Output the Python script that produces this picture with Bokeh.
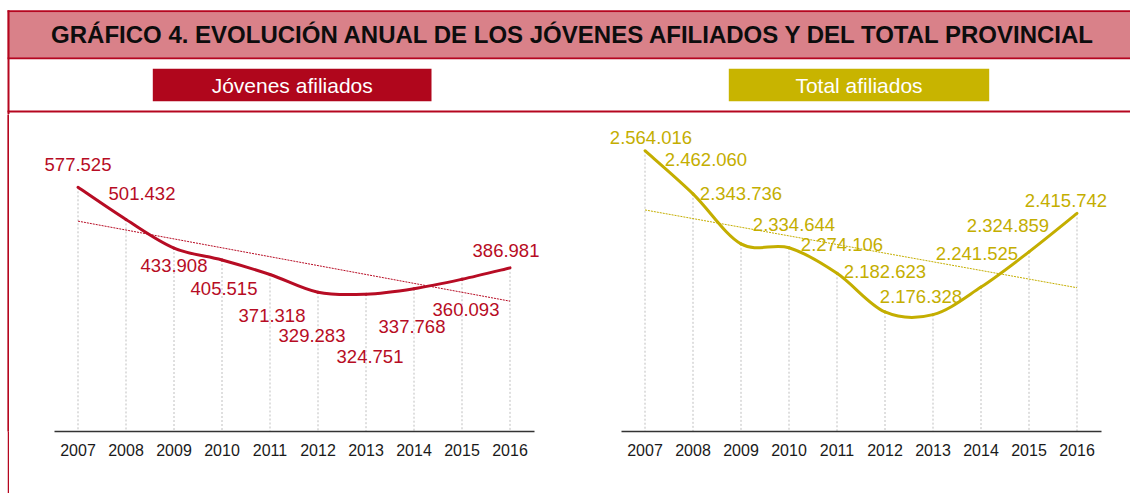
import numpy as np
from bokeh.plotting import figure
from bokeh.layouts import column, row, Spacer
from bokeh.models import Range1d, FixedTicker
from bokeh.core.properties import value
from bokeh.embed import file_html
from bokeh.resources import INLINE

# ---------------- data ----------------
title = "GRÁFICO 4. EVOLUCIÓN ANUAL DE LOS JÓVENES AFILIADOS Y DEL TOTAL PROVINCIAL"
series_names = ["Jóvenes afiliados", "Total afiliados"]
years = [2007, 2008, 2009, 2010, 2011, 2012, 2013, 2014, 2015, 2016]
jovenes = [577525, 501432, 433908, 405515, 371318, 329283, 324751, 337768, 360093, 386981]
total = [2564016, 2462060, 2343736, 2334644, 2274106, 2182623, 2176328, 2241525, 2324859, 2415742]
axis_min = [0, 1900000]
axis_span = 700000

# ---------------- style / layout ----------------
FONT = "Liberation Sans"
RED = "#B5061F"
PINK = "#D98189"
BOX_RED = "#B0061C"
OLIVE = "#C8B400"
C_JOV = "#B70C24"
C_TOT = "#C4AE00"
GRAY = "#BFBFBF"

W, H = 1130, 493
HEADER_H = 114
CHART_H = H - HEADER_H
BORDER_X = 7           # left red border position
BORDER_W = 2
LEFT_W = 564
RIGHT_W = W - BORDER_X - BORDER_W - LEFT_W
PX_PER_YEAR = 48
FRAME_H = 317          # frame bottom (axis line) inside chart figure
PLOT_H = 296           # pixels used by axis_span

# label offsets in screen pixels (dx, dy: positive = down)
off_jov = [(0, -23), (16, -26), (0, 17), (2, 28), (2, 41), (-6, 43), (4, 62), (-2, 38), (4, 30), (-4, -17)]
off_tot = [(6, -13), (13, -34), (0, -50), (5, -23), (5, -29), (0, -40), (-12, -18), (-4, -34), (-21, -26), (-11, -13)]


def fmt(v):
    return f"{v:,}".replace(",", ".")


def bezier_parts(xs, ys):
    xs = np.asarray(xs, float)
    ys = np.asarray(ys, float)
    n = len(xs)
    px = np.concatenate([[xs[0]], xs, [xs[-1]]])
    py = np.concatenate([[ys[0]], ys, [ys[-1]]])
    cx0 = px[1:n] + (px[2:n + 1] - px[0:n - 1]) / 6
    cy0 = py[1:n] + (py[2:n + 1] - py[0:n - 1]) / 6
    cx1 = px[2:n + 1] - (px[3:n + 2] - px[1:n]) / 6
    cy1 = py[2:n + 1] - (py[3:n + 2] - py[1:n]) / 6
    return dict(x0=xs[:-1], y0=ys[:-1], x1=xs[1:], y1=ys[1:],
                cx0=cx0, cy0=cy0, cx1=cx1, cy1=cy1)


def chart(width, vals, ymin, color, offsets, first_px):
    x_start = years[0] - first_px / PX_PER_YEAR
    p = figure(width=width, height=CHART_H,
               x_range=Range1d(x_start, x_start + width / PX_PER_YEAR),
               y_range=Range1d(ymin, ymin + axis_span * FRAME_H / PLOT_H),
               output_backend="svg", toolbar_location=None,
               y_axis_location=None, min_border_left=0, min_border_right=0,
               min_border_top=0, min_border_bottom=CHART_H - FRAME_H,
               outline_line_color=None)
    p.grid.visible = False
    ax = p.xaxis[0]
    ax.ticker = FixedTicker(ticks=years)
    ax.bounds = (years[0] - 0.5, years[-1] + 0.5)
    ax.axis_line_color = "#333333"
    ax.axis_line_width = 1.5
    ax.major_tick_line_color = None
    ax.minor_tick_line_color = None
    ax.major_tick_out = 0
    ax.major_tick_in = 0
    ax.major_label_standoff = 12
    ax.major_label_text_font = FONT
    ax.major_label_text_font_size = "16px"
    ax.major_label_text_color = "#1a1a1a"

    # drop lines
    p.segment(x0=years, y0=vals, x1=years, y1=[ymin] * len(years),
              line_color=GRAY, line_width=1, line_dash="2 2")
    # linear trend
    coef = np.polyfit(years, vals, 1)
    tx = [years[0], years[-1]]
    p.line(x=tx, y=np.polyval(coef, tx), line_color=color, line_width=1,
           line_dash="2 1")
    # smoothed series
    p.bezier(line_color=color, line_width=3, line_cap="round",
             **bezier_parts(years, vals))
    # data labels
    p.text(x=years, y=vals, text=[fmt(v) for v in vals],
           x_offset=[o[0] for o in offsets], y_offset=[o[1] for o in offsets],
           text_align="center", text_baseline="middle",
           text_font=value(FONT), text_font_size="18.5px", text_color=color)
    return p


# ---------------- header ----------------
hd = figure(width=W, height=HEADER_H, x_range=Range1d(0, W), y_range=Range1d(HEADER_H, 0),
            output_backend="svg", toolbar_location=None, x_axis_location=None,
            y_axis_location=None, min_border=0, outline_line_color=None)
hd.grid.visible = False
hd.quad(left=[BORDER_X], right=[W], top=[11.7], bottom=[56.7], fill_color=PINK, line_color=None)
hd.quad(left=[BORDER_X] * 3, right=[W] * 3, top=[9.7, 56.7, 110.0], bottom=[11.7, 58.7, 112.0],
        fill_color=RED, line_color=None)
hd.quad(left=[BORDER_X], right=[BORDER_X + BORDER_W], top=[9.7], bottom=[HEADER_H],
        fill_color=RED, line_color=None)
hd.text(x=[573.5], y=[33.5], text=[title], text_align="center", text_baseline="middle",
        text_font=value(FONT), text_font_style="bold", text_font_size="24px", text_color="#0d0d0d")
hd.quad(left=[152.3, 728.3], right=[431, 988.7], top=[68.3, 68.3], bottom=[100.7, 100.7],
        fill_color=[BOX_RED, OLIVE], line_color=None)
hd.text(x=[291.7, 858.5], y=[85, 85], text=series_names, text_align="center",
        text_baseline="middle", text_font=value(FONT), text_font_size="21px",
        text_color="white")

# ---------------- left border strip ----------------
strip = figure(width=BORDER_W, height=CHART_H, x_range=Range1d(0, 1), y_range=Range1d(0, 1),
               output_backend="svg", toolbar_location=None, x_axis_location=None,
               y_axis_location=None, min_border=0, outline_line_color=None,
               background_fill_color=RED, border_fill_color=RED)
strip.grid.visible = False
strip.quad(left=[0], right=[1], top=[1], bottom=[0], fill_color=RED, line_color=None)

off_x = BORDER_X + BORDER_W
left = chart(LEFT_W, jovenes, axis_min[0], C_JOV, off_jov, 77.5 - off_x)
right = chart(RIGHT_W, total, axis_min[1], C_TOT, off_tot, 644.5 - off_x - LEFT_W)

layout = column(hd, row(Spacer(width=BORDER_X, height=CHART_H), strip, left, right, spacing=0),
                spacing=0)
open("out.html", "w").write(file_html(layout, INLINE))
